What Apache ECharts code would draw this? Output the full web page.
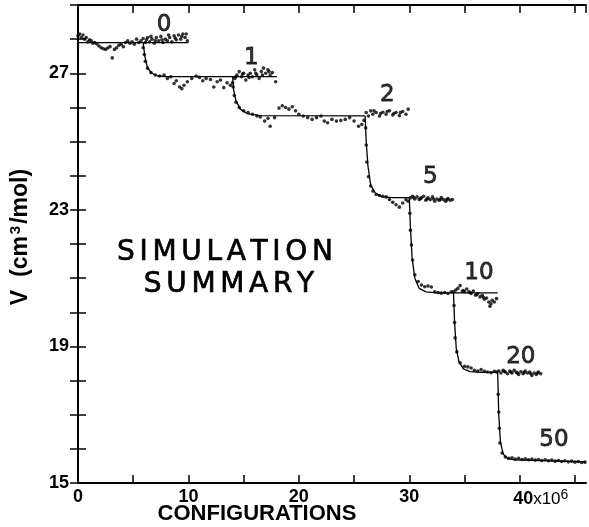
<!DOCTYPE html>
<html><head><meta charset="utf-8">
<script src="https://cdn.jsdelivr.net/npm/echarts@6/dist/echarts.min.js"></script>
<style>html,body{margin:0;padding:0;background:#fff}#c{width:589px;height:527px}</style>
</head><body><div id="c"></div>
<script>
// ---- data (x in 10^6 configurations, V in cm3/mol) ----
var xTicks = [0, 10, 20, 30, 40];
var yTicks = [15, 19, 23, 27];

var dots0 = [[0.0,28.1],[0.15,28.15],[0.3,28.05],[0.45,28.12],[0.6,28.0],[0.75,28.05],[0.9,27.92],[1.05,27.98],[1.2,27.95],[1.35,27.88],[1.5,27.9],[1.7,27.86],[1.9,27.8],[2.1,27.75],[2.3,27.72],[2.5,27.7],[2.7,27.74],[2.9,27.78],[3.1,27.45],[3.3,27.7],[3.5,27.75],[3.7,27.82],[3.9,27.85],[4.1,27.78],[4.3,27.9],[4.5,27.95],[4.7,27.88],[4.9,27.92],[5.1,27.85],[5.3,28.0],[5.5,27.9],[5.7,27.95],[5.9,28.02],[6.1,27.9],[6.3,28.05],[6.5,27.92],[6.7,28.0],[6.9,27.88],[7.1,28.05],[7.3,27.95],[7.5,28.08],[7.7,27.9],[7.9,28.0],[8.1,27.95],[8.3,28.05],[8.5,27.92],[8.7,28.1],[8.9,27.98],[9.1,28.12],[9.3,28.0],[9.5,28.15],[9.7,28.05],[9.9,27.95],[6.2,27.98],[6.6,28.08],[7.0,27.96],[7.6,27.98],[8.2,28.12],[8.8,28.03],[9.4,28.08],[9.8,28.15]];
var dots1 = [[5.9,27.75],[6.0,27.55],[6.1,27.35],[6.3,27.15],[6.6,27.02],[7.0,26.95],[7.4,26.92],[7.8,26.95],[8.1,26.85],[8.4,26.9],[8.7,26.7],[8.9,26.78],[9.2,26.6],[9.4,26.55],[9.6,26.65],[9.9,26.75],[10.3,26.85],[10.7,26.92],[11.0,26.88],[11.3,26.78],[11.6,26.85],[12.0,26.82],[12.3,26.6],[12.6,26.75],[12.9,26.8],[13.2,26.58],[13.5,26.72],[13.8,26.65],[14.0,26.72],[14.2,26.85],[14.4,26.95],[14.6,27.05],[14.8,26.9],[15.0,27.0],[15.2,26.8],[15.4,26.95],[15.6,27.0],[15.8,26.9],[16.0,27.1],[16.2,26.95],[16.4,26.85],[16.6,27.05],[16.8,27.15],[17.0,27.0],[17.2,27.1],[17.4,26.95],[17.6,27.02],[17.9,26.75],[14.3,26.9],[14.9,26.98],[15.5,26.88],[16.1,27.0],[16.7,26.95],[17.3,27.05]];
var dots2 = [[14.05,26.6],[14.15,26.35],[14.3,26.15],[14.6,26.0],[15.0,25.9],[15.4,25.85],[15.8,25.8],[16.2,25.75],[16.5,25.72],[16.9,25.6],[17.2,25.68],[17.4,25.45],[17.8,25.7],[18.2,25.98],[18.5,26.05],[18.8,26.0],[19.1,25.95],[19.4,26.02],[19.7,25.9],[20.0,25.8],[20.4,25.75],[20.8,25.7],[21.2,25.65],[21.6,25.7],[22.0,25.75],[22.3,25.6],[22.6,25.55],[23.0,25.65],[23.4,25.6],[23.8,25.62],[24.2,25.65],[24.6,25.7],[25.0,25.6],[25.4,25.45],[25.7,25.5],[25.9,25.62],[26.1,25.85],[26.3,25.75],[26.5,25.9],[26.7,25.8],[27.0,25.85],[27.3,25.75],[27.6,25.86],[27.9,25.8],[28.2,25.9],[28.5,25.78],[28.8,25.85],[29.1,25.76],[29.4,25.88],[29.7,25.8],[29.9,25.95],[26.8,25.9],[27.4,25.82],[28.0,25.88],[28.6,25.82],[29.2,25.85]];
var dots5 = [[26.05,25.4],[26.1,24.9],[26.15,24.4],[26.3,23.97],[26.5,23.7],[26.7,23.55],[27.0,23.45],[27.3,23.42],[27.6,23.4],[27.9,23.38],[28.2,23.3],[28.5,23.22],[28.8,23.15],[29.1,23.08],[29.4,23.2],[29.7,23.3],[29.9,23.25],[30.1,23.35],[30.3,23.4],[30.5,23.32],[30.7,23.38],[30.9,23.3],[31.1,23.35],[31.3,23.4],[31.5,23.28],[31.7,23.35],[31.9,23.3],[32.1,23.38],[32.3,23.25],[32.5,23.32],[32.7,23.28],[32.9,23.36],[33.1,23.3],[33.3,23.25],[33.5,23.33],[33.7,23.28],[33.9,23.3],[30.4,23.36],[31.0,23.33],[31.6,23.32],[32.2,23.32],[32.8,23.3],[33.4,23.3]];
var dots10 = [[30.05,22.9],[30.1,22.4],[30.2,21.97],[30.3,21.53],[30.5,21.1],[30.8,20.9],[31.1,20.8],[31.4,20.75],[31.7,20.77],[32.0,20.74],[32.3,20.6],[32.6,20.58],[32.9,20.56],[33.2,20.58],[33.5,20.55],[33.8,20.6],[34.0,20.6],[34.2,20.65],[34.4,20.7],[34.6,20.78],[34.8,20.62],[35.0,20.6],[35.2,20.68],[35.4,20.6],[35.6,20.55],[35.8,20.62],[36.0,20.5],[36.2,20.55],[36.4,20.45],[36.6,20.5],[36.8,20.38],[37.0,20.42],[37.2,20.3],[37.3,20.18],[37.5,20.35],[37.7,20.3],[37.9,20.4],[34.9,20.64],[35.5,20.58],[36.1,20.52],[36.7,20.44],[37.4,20.25]];
var dots20 = [[34.05,20.2],[34.1,19.7],[34.15,19.25],[34.3,18.84],[34.6,18.52],[35.0,18.42],[35.3,18.4],[35.6,18.37],[35.9,18.3],[36.2,18.28],[36.5,18.32],[36.8,18.27],[37.1,18.25],[37.4,18.23],[37.7,18.27],[37.9,18.25],[38.1,18.28],[38.3,18.22],[38.5,18.3],[38.7,18.25],[38.9,18.2],[39.1,18.28],[39.3,18.22],[39.5,18.3],[39.7,18.24],[39.9,18.18],[40.1,18.26],[40.3,18.2],[40.5,18.28],[40.7,18.22],[40.9,18.25],[41.1,18.15],[41.3,18.22],[41.5,18.18],[41.7,18.25],[41.9,18.2],[38.6,18.27],[39.2,18.25],[39.8,18.22],[40.4,18.24],[41.0,18.2],[41.6,18.22]];
var dots50 = [[38.05,17.6],[38.1,17.08],[38.15,16.6],[38.2,16.17],[38.4,15.88],[38.7,15.76],[39.0,15.72],[39.3,15.74],[39.6,15.7],[39.9,15.72],[40.2,15.69],[40.5,15.71],[40.8,15.68],[41.1,15.7],[41.4,15.67],[41.7,15.69],[42.0,15.66],[42.3,15.68],[42.6,15.65],[42.9,15.67],[43.2,15.64],[43.5,15.66],[43.8,15.63],[44.1,15.65],[44.4,15.62],[44.7,15.64],[45.0,15.61],[45.3,15.63],[45.6,15.6],[45.9,15.61]];

var fit0 = [[0,27.9],[10,27.9]];
var fit1 = [[5.9,27.9],[6.05,27.5],[6.3,27.15],[6.7,27.0],[7.2,26.92],[8,26.9],[18,26.9]];
var fit2 = [[14,26.9],[14.1,26.5],[14.3,26.2],[14.7,25.95],[15.3,25.82],[16.5,25.76],[26,25.75]];
var fit5 = [[26,25.75],[26.1,25.0],[26.25,24.3],[26.5,23.73],[26.9,23.5],[27.5,23.38],[28.5,23.36],[30,23.36]];
var fit10 = [[30,23.36],[30.1,22.5],[30.25,21.6],[30.5,21.0],[30.9,20.7],[31.5,20.6],[32.5,20.57],[38,20.57]];
var fit20 = [[34,20.57],[34.1,19.7],[34.25,18.95],[34.5,18.55],[34.9,18.34],[35.5,18.26],[36.5,18.24],[38,18.24]];
var fit50 = [[38,18.24],[38.1,17.0],[38.25,16.2],[38.5,15.85],[38.9,15.72],[39.5,15.68],[46,15.62]];

var stepLabels = [[7.8,28.42,'0'],[15.7,27.45,'1'],[28.0,26.37,'2'],[31.9,23.97,'5'],[36.3,21.15,'10'],[40.1,18.69,'20'],[43.1,16.26,'50']];

// ---- chart ----
var chart = echarts.init(document.getElementById('c'), null, {renderer: 'canvas'});
var axisLine = {show: true, lineStyle: {color: '#000', width: 2}};
var tickStyle = {show: true, inside: true, length: 8, lineStyle: {color: '#000', width: 1.5}};
var fits = [fit0, fit1, fit2, fit5, fit10, fit20, fit50];
var series = [{
  type: 'scatter', data: [].concat(dots0, dots1, dots2, dots5, dots10, dots20, dots50),
  symbol: 'circle', symbolSize: 3.6, itemStyle: {color: '#000'}, silent: true, z: 3
}];
fits.forEach(function (f) {
  series.push({type: 'line', data: f, showSymbol: false, symbol: 'none', lineStyle: {color: '#000', width: 1.3}, silent: true, z: 2});
});
series.push({
  type: 'scatter', data: stepLabels, symbolSize: 0, silent: true,
  label: {show: true, position: 'inside', formatter: function (p) { return p.value[2]; },
    color: '#000', fontSize: 23, fontFamily: 'DejaVu Sans', textBorderColor: '#000', textBorderWidth: 0.8}
});

chart.setOption({
  animation: false,
  backgroundColor: '#fff',
  grid: {left: 77, right: 3, top: 5, bottom: 44},
  xAxis: [{
    type: 'value', min: 0, max: 46, interval: 5, position: 'bottom',
    axisLine: axisLine, axisTick: tickStyle, splitLine: {show: false},
    axisLabel: {
      margin: 5, color: '#000', fontWeight: 'bold', fontSize: 18, fontFamily: 'Liberation Sans',
      showMaxLabel: false,
      formatter: function (v) {
        if (xTicks.indexOf(v) < 0) return '';
        if (v === 40) return '{p|}{n|40}{s|x10}{e|6}';
        return '{n|' + v + '}';
      },
      rich: {
        n: {fontWeight: 'bold', fontSize: 18, fontFamily: 'Liberation Sans', color: '#000'},
        p: {width: 42},
        s: {fontWeight: 'normal', fontSize: 17, fontFamily: 'Liberation Sans', color: '#000'},
        e: {fontWeight: 'normal', fontSize: 14, fontFamily: 'Liberation Sans', color: '#000', verticalAlign: 'top', padding: [0, 0, 8, 0]}
      }
    }
  }, {
    type: 'value', min: 0, max: 46, interval: 5, position: 'top',
    axisLine: axisLine, axisTick: tickStyle, axisLabel: {show: false}, splitLine: {show: false}
  }],
  yAxis: [{
    type: 'value', min: 15, max: 29, interval: 1, position: 'left',
    axisLine: axisLine, axisTick: tickStyle, splitLine: {show: false},
    name: '{t|V  (cm}{s|3}{t|/mol)}', nameLocation: 'middle', nameGap: 45, nameRotate: 90,
    nameTextStyle: {
      color: '#000', fontWeight: 'bold', fontSize: 23, fontFamily: 'Liberation Sans', padding: [0, 0, 0, 14],
      rich: {
        t: {fontWeight: 'bold', fontSize: 23, fontFamily: 'Liberation Sans', color: '#000'},
        s: {fontWeight: 'bold', fontSize: 15, fontFamily: 'Liberation Sans', color: '#000', verticalAlign: 'top', padding: [0, 2, 10, 2]}
      }
    },
    axisLabel: {
      margin: 9, color: '#000', fontWeight: 'bold', fontSize: 18, fontFamily: 'Liberation Sans',
      formatter: function (v) { return yTicks.indexOf(v) >= 0 ? String(v) : ''; }
    }
  }, {
    type: 'value', min: 15, max: 29, interval: 1, position: 'right',
    axisLine: axisLine, axisTick: tickStyle, axisLabel: {show: false}, splitLine: {show: false}
  }],
  graphic: [
    {type: 'text', x: 257, y: 514, style: {text: 'CONFIGURATIONS', fill: '#000', font: 'bold 22px "Liberation Sans"', align: 'center', verticalAlign: 'middle'}},
    {type: 'text', x: 225, y: 253, style: {text: 'S\u2006I\u2006M\u2006U\u2006L\u2006A\u2006T\u2006I\u2006O\u2006N', fill: '#000', stroke: '#000', lineWidth: 0.7, font: '28px "DejaVu Sans"', align: 'center', verticalAlign: 'middle'}},
    {type: 'text', x: 229, y: 285, style: {text: 'S\u2006U\u2006M\u2006M\u2006A\u2006R\u2006Y', fill: '#000', stroke: '#000', lineWidth: 0.7, font: '28px "DejaVu Sans"', align: 'center', verticalAlign: 'middle'}}
  ],
  series: series
});
</script></body></html>
